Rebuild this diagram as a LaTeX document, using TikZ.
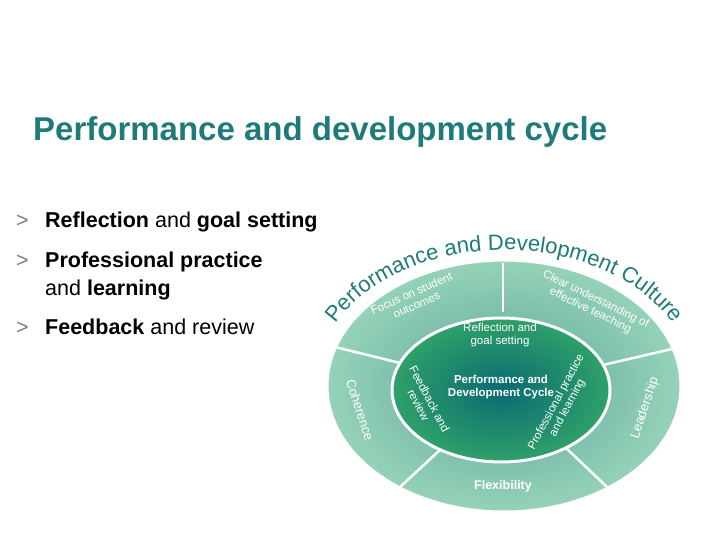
\documentclass[tikz,border=0pt]{standalone}
\usepackage{fontspec}
\setmainfont{Liberation Sans}
\usetikzlibrary{decorations.text,shapes.geometric}
\definecolor{teal1}{HTML}{1F7A7A}
\definecolor{ringin}{HTML}{5FA69C}
\definecolor{ringout}{HTML}{95D2B8}
\definecolor{corein}{HTML}{0A6A72}
\definecolor{coreout}{HTML}{2FA06A}
\begin{document}
\begin{tikzpicture}[x=1pt,y=1pt,
  lab/.style={text=white,font=\fontsize{11.5}{12.5}\selectfont,align=center,inner sep=0},
  divider/.style={white,line width=2.5pt},
  bul/.style={anchor=base west,font=\fontsize{21.5}{28}\selectfont,inner sep=0}]
\useasboundingbox (0,0) rectangle (720,540);
\coordinate (c) at (504,154);
% outer ring
\shade[inner color=ringin,outer color=ringout,draw=white,line width=1pt] (c) ellipse[x radius=176,y radius=125];
% dividers
\coordinate (t1) at (503,277); \coordinate (t2) at (503,228);
\coordinate (l1) at (335,193); \coordinate (l2) at (400,177);
\coordinate (r1) at (672,191); \coordinate (r2) at (603,175);
\coordinate (bl1) at (400,53); \coordinate (bl2) at (440,90);
\coordinate (br1) at (607,53); \coordinate (br2) at (566,92);
\draw[divider] (t1) -- (t2);
\draw[divider] (l1) -- (l2);
\draw[divider] (r1) -- (r2);
\draw[divider] (bl1) -- (bl2);
\draw[divider] (br1) -- (br2);
% core
\shade[inner color=corein,outer color=coreout,draw=white,line width=3pt] (501,150) ellipse[x radius=109,y radius=72];
% curved title
\path[decorate,decoration={text along path,text align=center,
  text={|\fontsize{22}{22}\selectfont\color{teal1}|Performance and Development Culture}}]
  (c) ++(160:190 and 136) arc[start angle=160,end angle=20,x radius=190,y radius=136];
% labels
\node[lab,rotate=24] (fo) at (414,241) {Focus on student\\outcomes};
\node[lab,rotate=-26] (cl) at (593,235) {Clear understanding of\\effective teaching};
\node[lab] (rg) at (500,205) {Reflection and\\goal setting};
\node[lab,font=\fontsize{11.5}{13.5}\selectfont\bfseries] (pd) at (501,153) {Performance and\\Development Cycle};
\node[lab,rotate=-62] (fb) at (424,138) {Feedback and\\review};
\node[lab,rotate=62] (pp) at (562,135) {Professional practice\\and learning};
\node[lab,font=\fontsize{13}{14}\selectfont,rotate=-72] (co) at (360,130) {Coherence};
\node[lab,font=\fontsize{13}{14}\selectfont,rotate=72] (le) at (645,132) {Leadership};
\node[lab,font=\fontsize{12.5}{14}\selectfont\bfseries] (fl) at (503,54) {Flexibility};
% left text
\node[anchor=base west,text=teal1,font=\fontsize{33}{35}\selectfont\bfseries,inner sep=0] (title) at (33,399) {Performance and development cycle};
\node[bul,text=gray] (g1) at (16,312) {>};
\node[bul] (b1) at (45,312) {\textbf{Reflection} and \textbf{goal setting}};
\node[bul,text=gray] (g2) at (16,272) {>};
\node[bul] (b2) at (45,272) {\textbf{Professional practice}};
\node[bul] (b2b) at (45,244) {and \textbf{learning}};
\node[bul,text=gray] (g3) at (16,205) {>};
\node[bul] (b3) at (45,205) {\textbf{Feedback} and review};
\end{tikzpicture}
\end{document}
